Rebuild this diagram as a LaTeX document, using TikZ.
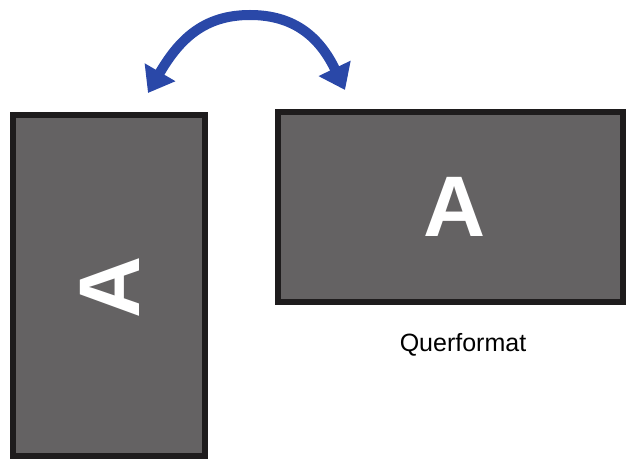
\documentclass[tikz,border=0pt]{standalone}
\usepackage{fontspec}
\setmainfont{Liberation Sans}
\usetikzlibrary{arrows.meta}
\definecolor{panelfill}{RGB}{100,98,99}
\definecolor{panelline}{RGB}{30,28,29}
\definecolor{arrowblue}{RGB}{42,72,168}
\tikzset{
  panel/.style={draw=panelline, fill=panelfill, line width=6pt, inner sep=0pt, outer sep=0pt},
  bigletter/.style={text=white, font=\fontsize{86}{86}\selectfont\bfseries, inner sep=0pt},
  caption/.style={font=\fontsize{25}{25}\selectfont, text=black, inner sep=0pt},
  turn/.style={draw=arrowblue, line width=10pt, {Triangle[length=24pt,width=34pt]}-{Triangle[length=24pt,width=34pt]}}
}
\begin{document}
\begin{tikzpicture}[x=1pt, y=-1pt]
\useasboundingbox (0,0) rectangle (626,462);
\node[panel, minimum width=192pt, minimum height=341pt] (portrait) at (109,285.5) {};
\node[panel, minimum width=345pt, minimum height=190pt] (landscape) at (450.5,207) {};
\node[bigletter, rotate=90] (pA) at (110,287) {A};
\node[bigletter] (lA) at (455,207) {A};
\node[caption, anchor=base] (cap) at (463,351) {Querformat};
\coordinate (lt) at (148,93);
\coordinate (rt) at (345,90);
\coordinate (top) at (250,15);
\draw[turn] (lt) .. controls (180,38) and (205,15) .. (top) .. controls (295,15) and (320,38) .. (rt);
\end{tikzpicture}
\end{document}
